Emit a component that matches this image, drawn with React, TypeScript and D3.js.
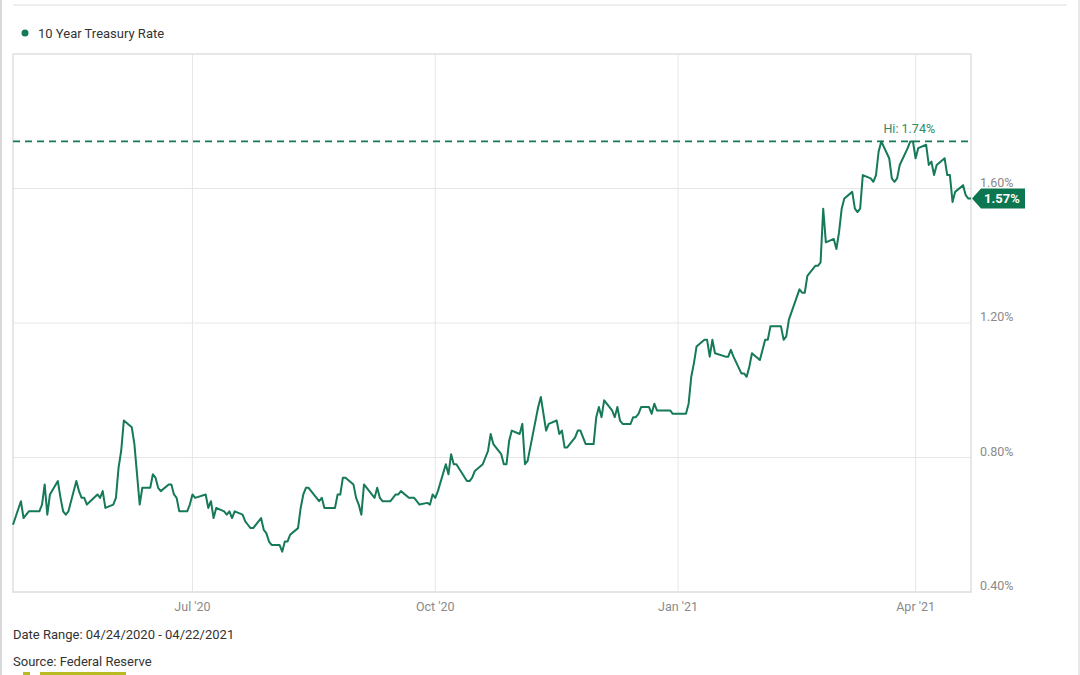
import React from "react";
import * as d3 from "d3";

const dates: string[] = [
  "2020-04-24","2020-04-27","2020-04-28","2020-04-29","2020-04-30",
  "2020-05-01","2020-05-04","2020-05-05","2020-05-06","2020-05-07","2020-05-08","2020-05-11","2020-05-12","2020-05-13","2020-05-14","2020-05-15","2020-05-18","2020-05-19","2020-05-20","2020-05-21","2020-05-22","2020-05-26","2020-05-27","2020-05-28","2020-05-29",
  "2020-06-01","2020-06-02","2020-06-03","2020-06-04","2020-06-05","2020-06-08","2020-06-09","2020-06-10","2020-06-11","2020-06-12","2020-06-15","2020-06-16","2020-06-17","2020-06-18","2020-06-19","2020-06-22","2020-06-23","2020-06-24","2020-06-25","2020-06-26","2020-06-29","2020-06-30",
  "2020-07-01","2020-07-02","2020-07-06","2020-07-07","2020-07-08","2020-07-09","2020-07-10","2020-07-13","2020-07-14","2020-07-15","2020-07-16","2020-07-17","2020-07-20","2020-07-21","2020-07-22","2020-07-23","2020-07-24","2020-07-27","2020-07-28","2020-07-29","2020-07-30","2020-07-31",
  "2020-08-03","2020-08-04","2020-08-05","2020-08-06","2020-08-07","2020-08-10","2020-08-11","2020-08-12","2020-08-13","2020-08-14","2020-08-17","2020-08-18","2020-08-19","2020-08-20","2020-08-21","2020-08-24","2020-08-25","2020-08-26","2020-08-27","2020-08-28","2020-08-31",
  "2020-09-01","2020-09-02","2020-09-03","2020-09-04","2020-09-08","2020-09-09","2020-09-10","2020-09-11","2020-09-14","2020-09-15","2020-09-16","2020-09-17","2020-09-18","2020-09-21","2020-09-22","2020-09-23","2020-09-24","2020-09-25","2020-09-28","2020-09-29","2020-09-30",
  "2020-10-01","2020-10-02","2020-10-05","2020-10-06","2020-10-07","2020-10-08","2020-10-09","2020-10-13","2020-10-14","2020-10-15","2020-10-16","2020-10-19","2020-10-20","2020-10-21","2020-10-22","2020-10-23","2020-10-26","2020-10-27","2020-10-28","2020-10-29","2020-10-30",
  "2020-11-02","2020-11-03","2020-11-04","2020-11-05","2020-11-06","2020-11-09","2020-11-10","2020-11-12","2020-11-13","2020-11-16","2020-11-17","2020-11-18","2020-11-19","2020-11-20","2020-11-23","2020-11-24","2020-11-25","2020-11-27","2020-11-30",
  "2020-12-01","2020-12-02","2020-12-03","2020-12-04","2020-12-07","2020-12-08","2020-12-09","2020-12-10","2020-12-11","2020-12-14","2020-12-15","2020-12-16","2020-12-17","2020-12-18","2020-12-21","2020-12-22","2020-12-23","2020-12-24","2020-12-28","2020-12-29","2020-12-30","2020-12-31",
  "2021-01-04","2021-01-05","2021-01-06","2021-01-07","2021-01-08","2021-01-11","2021-01-12","2021-01-13","2021-01-14","2021-01-15","2021-01-19","2021-01-20","2021-01-21","2021-01-22","2021-01-25","2021-01-26","2021-01-27","2021-01-28","2021-01-29",
  "2021-02-01","2021-02-02","2021-02-03","2021-02-04","2021-02-05","2021-02-08","2021-02-09","2021-02-10","2021-02-11","2021-02-12","2021-02-16","2021-02-17","2021-02-18","2021-02-19","2021-02-22","2021-02-23","2021-02-24","2021-02-25","2021-02-26",
  "2021-03-01","2021-03-02","2021-03-03","2021-03-04","2021-03-05","2021-03-08","2021-03-09","2021-03-10","2021-03-11","2021-03-12","2021-03-15","2021-03-16","2021-03-17","2021-03-18","2021-03-19","2021-03-22","2021-03-23","2021-03-24","2021-03-25","2021-03-26","2021-03-29","2021-03-30","2021-03-31",
  "2021-04-01","2021-04-02","2021-04-05","2021-04-06","2021-04-07","2021-04-08","2021-04-09","2021-04-12","2021-04-13","2021-04-14","2021-04-15","2021-04-16","2021-04-19","2021-04-20","2021-04-21","2021-04-22",
];

const rates: number[] = [
  0.60,0.67,0.62,0.63,0.64,
  0.64,0.64,0.66,0.72,0.63,0.69,0.73,0.68,0.64,0.63,0.64,0.73,0.70,0.68,0.68,0.66,0.69,0.68,0.70,0.65,
  0.66,0.68,0.77,0.82,0.91,0.89,0.84,0.75,0.66,0.71,0.71,0.75,0.74,0.71,0.70,0.72,0.72,0.69,0.68,0.64,0.64,0.66,
  0.69,0.68,0.69,0.65,0.67,0.62,0.65,0.64,0.63,0.64,0.62,0.64,0.63,0.61,0.60,0.59,0.59,0.62,0.585,0.575,0.55,0.54,
  0.54,0.52,0.55,0.55,0.57,0.59,0.65,0.69,0.71,0.71,0.68,0.67,0.68,0.65,0.65,0.65,0.69,0.69,0.74,0.74,0.72,
  0.68,0.66,0.63,0.72,0.68,0.71,0.68,0.67,0.67,0.68,0.69,0.69,0.70,0.68,0.68,0.68,0.67,0.66,0.665,0.66,0.69,
  0.68,0.70,0.78,0.75,0.81,0.78,0.78,0.73,0.73,0.74,0.76,0.78,0.80,0.82,0.87,0.84,0.81,0.78,0.78,0.85,0.88,
  0.87,0.90,0.78,0.79,0.83,0.95,0.98,0.88,0.90,0.91,0.87,0.88,0.83,0.83,0.86,0.88,0.88,0.84,0.84,
  0.92,0.95,0.92,0.97,0.94,0.92,0.95,0.91,0.90,0.90,0.92,0.92,0.93,0.95,0.95,0.93,0.96,0.94,0.94,0.94,0.93,0.93,
  0.93,0.96,1.04,1.08,1.13,1.15,1.15,1.10,1.15,1.11,1.10,1.10,1.12,1.10,1.05,1.05,1.04,1.07,1.11,
  1.09,1.12,1.15,1.15,1.19,1.19,1.19,1.15,1.16,1.21,1.30,1.29,1.29,1.34,1.37,1.37,1.38,1.54,1.44,
  1.45,1.42,1.47,1.54,1.57,1.59,1.54,1.53,1.54,1.64,1.63,1.62,1.64,1.71,1.74,1.69,1.63,1.62,1.63,1.67,1.72,1.74,1.74,
  1.69,1.72,1.73,1.67,1.68,1.64,1.67,1.69,1.64,1.64,1.56,1.59,1.61,1.58,1.57,1.57,
];

const yTicks: number[] = [0.4, 0.8, 1.2, 1.6];
const xTickDates: string[] = ["2020-07-01", "2020-10-01", "2021-01-01", "2021-04-01"];
const xTickLabels: string[] = ["Jul '20", "Oct '20", "Jan '21", "Apr '21"];
const seriesName = "10 Year Treasury Rate";
const rangeStart = "2020-04-24";
const rangeEnd = "2021-04-22";
const footerDate = "Date Range: 04/24/2020 - 04/22/2021";
const footerSource = "Source: Federal Reserve";

const GREEN = "#15795a";
const BADGE = "#0c7650";
const GRID = "#e6e6e6";
const FONT = "Roboto, 'Noto Sans', sans-serif";

export default function App() {
  const W = 1080, H = 675;
  const left = 13, right = 971, top = 54, bottom = 592;
  const parse = d3.timeParse("%Y-%m-%d");
  const data = dates.map((d, i) => ({ date: parse(d) as Date, v: rates[i] }));
  const x = d3.scaleTime().domain([parse(rangeStart) as Date, parse(rangeEnd) as Date]).range([left, right]);
  const y = d3.scaleLinear().domain([0.4, 2.0]).range([bottom, top]);
  const line = d3.line<{ date: Date; v: number }>().x(d => x(d.date)).y(d => y(d.v));
  const hi = d3.max(rates) as number;
  const hiIdx = rates.indexOf(hi);
  const last = data[data.length - 1];
  const fmt = (v: number) => v.toFixed(2) + "%";

  const hiX = x(data[hiIdx].date);
  const lastY = y(last.v);
  const bx = right + 1;

  return (
    <svg width={W} height={H} style={{ position: "absolute", left: 0, top: 0, background: "#fff" }} fontFamily={FONT}>
      {/* outer frame */}
      <line x1={1} x2={1} y1={0} y2={H} stroke="#d9d9d9" strokeWidth={2} />
      <line x1={1079} x2={1079} y1={0} y2={H} stroke="#e0e0e0" strokeWidth={1.5} />
      <line x1={13} x2={1067} y1={5} y2={5} stroke="#eeeeee" strokeWidth={2} />

      {/* legend */}
      <circle cx={25} cy={33} r={3.5} fill={GREEN} />
      <text x={38} y={37.5} fontSize={13} fill="#333">{seriesName}</text>

      {/* grid */}
      {yTicks.map(t => (
        <line key={"gy" + t} x1={left} x2={right} y1={y(t)} y2={y(t)} stroke={GRID} strokeWidth={1} />
      ))}
      {xTickDates.map(d => (
        <line key={"gx" + d} x1={x(parse(d) as Date)} x2={x(parse(d) as Date)} y1={top} y2={bottom} stroke={GRID} strokeWidth={1} />
      ))}
      <rect x={left} y={top} width={right - left} height={bottom - top} fill="none" stroke="#e0e0e0" strokeWidth={1.5} />

      {/* y labels */}
      {yTicks.map(t => (
        <text key={"ty" + t} x={980} y={y(t) - 2} fontSize={12.5} fill="#8a8a8a">{fmt(t)}</text>
      ))}
      {/* x labels */}
      {xTickDates.map((d, i) => (
        <text key={"tx" + d} x={x(parse(d) as Date)} y={610.5} fontSize={12.5} fill="#8a8a8a" textAnchor="middle">{xTickLabels[i]}</text>
      ))}

      {/* hi line */}
      <line x1={left} x2={right} y1={y(hi)} y2={y(hi)} stroke={GREEN} strokeWidth={1.8} strokeDasharray="7,5" />
      <text x={hiX + 28} y={y(hi) - 8} fontSize={12.5} fill="#2f8a68" textAnchor="middle">{"Hi: " + fmt(hi)}</text>

      {/* series */}
      <path d={line(data) || ""} fill="none" stroke={GREEN} strokeWidth={2} strokeLinejoin="round" />

      {/* last value badge */}
      <path d={`M${bx},${lastY} L${bx + 9},${lastY - 10} L${bx + 53},${lastY - 10} L${bx + 53},${lastY + 10} L${bx + 9},${lastY + 10} Z`} fill={BADGE} />
      <text x={bx + 30} y={lastY + 4.5} fontSize={13} fontWeight="bold" fill="#fff" textAnchor="middle">{fmt(last.v)}</text>

      {/* footer */}
      <text x={13} y={638.5} fontSize={13} fill="#333">{footerDate}</text>
      <text x={13} y={665.5} fontSize={13} fill="#333">{footerSource}</text>
      <rect x={23} y={672} width={7} height={3} fill="#b8bb22" />
      <rect x={40} y={672} width={86} height={3} fill="#b8bb22" />
    </svg>
  );
}
